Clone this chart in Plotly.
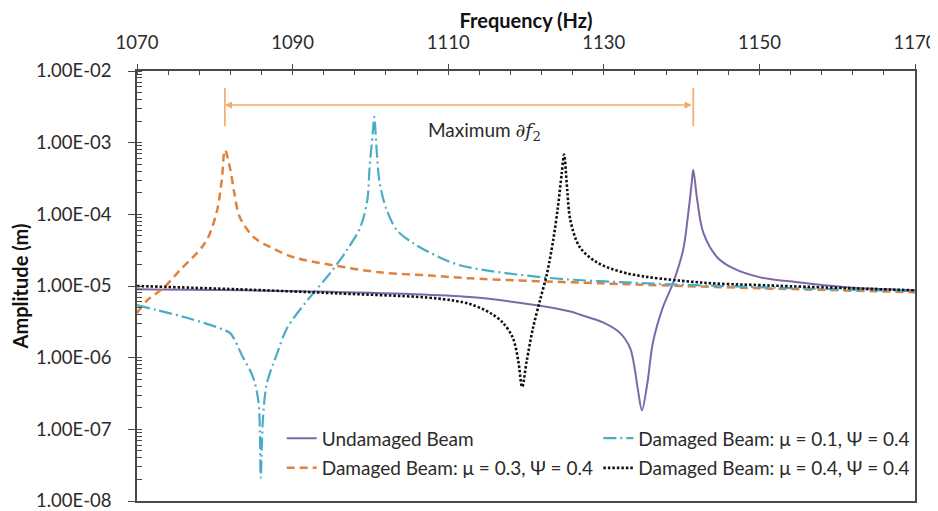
import math
import plotly.graph_objects as go

# ---------------- data ----------------
freq_undamaged = [1070.0, 1091.0, 1112.8, 1121.8, 1125.7, 1126.9, 1129.9, 1132.1, 1133.4, 1134.0,
                  1134.4, 1134.9, 1135.6, 1136.3, 1137.6, 1138.9, 1140.2, 1140.8, 1141.3, 1141.5,
                  1142.0, 1142.8, 1144.6, 1146.6, 1150.1, 1155.2, 1161.6, 1170.0]
amp_undamaged = [9.0e-6, 8.45e-6, 7.0e-6, 5.3e-6, 4.4e-6, 4.0e-6, 3.1e-6, 2.2e-6, 1.35e-6, 6.7e-7,
                 3.5e-7, 1.84e-7, 4.4e-7, 1.6e-6, 5.06e-6, 1.1e-5, 3.2e-5, 9.2e-5, 2.74e-4, 4.2e-4,
                 1.6e-4, 5.5e-5, 2.5e-5, 1.77e-5, 1.32e-5, 1.12e-5, 9.5e-6, 8.7e-6]

freq_mu01 = [1070.0, 1072.6, 1076.4, 1080.7, 1082.0, 1083.6, 1084.9, 1085.6, 1085.8, 1085.9,
             1086.2, 1086.7, 1088.0, 1089.3, 1091.9, 1094.8, 1097.0, 1098.7, 1099.6, 1099.9,
             1100.3, 1100.5, 1100.8, 1101.2, 1102.1, 1103.4, 1105.5, 1107.7, 1111.5, 1122.2,
             1133.0, 1150.1, 1170.0]
amp_mu01 = [5.4e-6, 4.6e-6, 3.6e-6, 2.56e-6, 2.18e-6, 1.02e-6, 5.4e-7, 2.5e-7, 8.8e-8, 2.1e-8,
            1.48e-7, 4.4e-7, 1.14e-6, 2.6e-6, 6.3e-6, 1.5e-5, 3.2e-5, 6.6e-5, 1.58e-4, 4.6e-4,
            1.35e-3, 2.3e-3, 7.9e-4, 2.7e-4, 1.15e-4, 6.0e-5, 3.96e-5, 2.9e-5, 1.95e-5, 1.32e-5,
            1.12e-5, 9.6e-6, 8.5e-6]

freq_mu03 = [1070.0, 1071.3, 1073.5, 1075.5, 1077.7, 1078.6, 1079.3, 1080.3, 1080.9, 1081.3,
             1082.0, 1082.5, 1083.2, 1085.0, 1087.1, 1090.2, 1095.3, 1101.2, 1107.7, 1112.8,
             1129.5, 1150.1, 1170.0]
amp_mu03 = [4.2e-6, 6.3e-6, 9.6e-6, 1.66e-5, 2.88e-5, 3.8e-5, 5.2e-5, 1.14e-4, 3.0e-4, 7.9e-4,
            4.2e-4, 2.0e-4, 9.2e-5, 4.8e-5, 3.5e-5, 2.5e-5, 1.94e-5, 1.55e-5, 1.4e-5, 1.28e-5,
            1.09e-5, 9.3e-6, 8.2e-6]

freq_mu04 = [1070.0, 1082.9, 1095.7, 1108.6, 1112.8, 1115.4, 1117.0, 1118.3, 1119.0, 1119.5,
             1120.1, 1120.9, 1121.8, 1122.7, 1123.5, 1124.1, 1124.6, 1124.9, 1125.3, 1125.7,
             1126.9, 1129.1, 1133.0, 1142.4, 1151.0, 1170.0]
amp_mu04 = [1.0e-5, 9.0e-6, 7.9e-6, 6.7e-6, 5.6e-6, 4.2e-6, 3.1e-6, 1.9e-6, 9.1e-7, 3.9e-7,
            9.1e-7, 2.6e-6, 6.3e-6, 1.5e-5, 4.4e-5, 1.26e-4, 3.8e-4, 6.8e-4, 2.2e-4, 8.3e-5,
            3.5e-5, 2.14e-5, 1.5e-5, 1.12e-5, 1.02e-5, 8.7e-6]

series_names = ["Undamaged Beam",
                "Damaged Beam: μ = 0.1, Ψ = 0.4",
                "Damaged Beam: μ = 0.3, Ψ = 0.4",
                "Damaged Beam: μ = 0.4, Ψ = 0.4"]

x_tick_vals = [1070, 1090, 1110, 1130, 1150, 1170]
y_tick_vals = [1e-2, 1e-3, 1e-4, 1e-5, 1e-6, 1e-7, 1e-8]
y_tick_text = ["1.00E-02", "1.00E-03", "1.00E-04", "1.00E-05", "1.00E-06", "1.00E-07", "1.00E-08"]

# bracket of the "Maximum ∂f2" annotation (amplitude levels)
bracket_amp = 3.35e-3
bracket_low = 1.7e-3
bracket_high = 5.8e-3
label_freq = 1114.7
label_amp = 1.45e-3

# ---------------- figure ----------------
FONT = "Lato"
TXT = "#2b2b2b"
AXC = "#4a4a4a"
ORANGE_LIGHT = "#F4A966"
SMOOTH = 0.9

styles = [
    dict(color="#7E68A8", width=2, shape="spline", smoothing=SMOOTH),
    dict(color="#4BACC6", width=2.2, dash="13px,4px,2px,4px", shape="spline", smoothing=SMOOTH),
    dict(color="#E0823D", width=2.5, dash="8px,5px", shape="spline", smoothing=SMOOTH),
    dict(color="#111111", width=2.6, dash="2.5px,2px", shape="spline", smoothing=SMOOTH),
]
data = [(freq_undamaged, amp_undamaged), (freq_mu01, amp_mu01),
        (freq_mu03, amp_mu03), (freq_mu04, amp_mu04)]
legend_of = ["legend", "legend2", "legend", "legend2"]
rank_of = [1, 1, 2, 2]
draw_order = [0, 2, 1, 3]

fig = go.Figure()
for i in draw_order:
    fx, fy = data[i]
    fig.add_trace(go.Scatter(x=fx, y=fy, mode="lines", name=series_names[i],
                             line=styles[i], legend=legend_of[i], legendrank=rank_of[i],
                             legendgroup="g%d" % i))

# resonance frequencies of the undamaged and mu=0.3 beams (ends of the bracket)
f_left = freq_mu03[amp_mu03.index(max(amp_mu03))]
f_right = freq_undamaged[amp_undamaged.index(max(amp_undamaged))]

for fx in (f_left, f_right):
    fig.add_trace(go.Scatter(x=[fx, fx], y=[bracket_low, bracket_high], mode="lines",
                             line=dict(color=ORANGE_LIGHT, width=1.6),
                             showlegend=False, hoverinfo="skip"))

fig.add_annotation(x=f_left, y=math.log10(bracket_amp), ax=f_right, ay=math.log10(bracket_amp),
                   xref="x", yref="y", axref="x", ayref="y", text="", showarrow=True,
                   arrowside="end+start", arrowhead=2, arrowsize=0.9, arrowwidth=1.6,
                   arrowcolor=ORANGE_LIGHT, standoff=0, startstandoff=0)
fig.add_annotation(x=label_freq, y=math.log10(label_amp), xref="x", yref="y", showarrow=False,
                   text="Maximum <span style=\"font-family:'DejaVu Serif'\"><i>∂f</i><sub>2</sub></span>",
                   font=dict(family=FONT, size=19, color=TXT))

legend_common = dict(orientation="v", yanchor="top", xanchor="left", bgcolor="rgba(0,0,0,0)",
                     font=dict(family=FONT, size=19, color=TXT), traceorder="grouped",
                     tracegroupgap=2, borderwidth=0)

# the page body has an 8px margin: the figure is sized so that it fits the 938x511 window
fig.update_layout(
    width=930, height=503,
    template="none",
    paper_bgcolor="white", plot_bgcolor="white",
    margin=dict(l=129, r=23, t=63, b=10),
    font=dict(family=FONT, size=18, color=TXT),
    showlegend=True,
    legend=dict(x=0.186, y=0.19, **legend_common),
    legend2=dict(x=0.593, y=0.19, **legend_common),
)

fig.update_xaxes(
    side="top", range=[1070, 1170], tickmode="array", tickvals=x_tick_vals,
    ticks="outside", ticklen=5, tickwidth=1.3, tickcolor=AXC, ticklabelstandoff=8,
    ticklabeloverflow="allow",
    minor=dict(dtick=4, tick0=1070, ticks="inside", ticklen=4, tickwidth=1.1, tickcolor=AXC),
    showline=True, linecolor=AXC, linewidth=1.5, mirror=True, showgrid=False, zeroline=False,
    automargin=False,
    title=dict(text="<b>Frequency (Hz)</b>", font=dict(family=FONT, size=20, color="#111"), standoff=18),
    tickfont=dict(family=FONT, size=18.5, color=TXT),
)
fig.update_yaxes(
    type="log", range=[-8, -2], tickmode="array", tickvals=y_tick_vals, ticktext=y_tick_text,
    ticks="outside", ticklen=7, tickwidth=1.3, tickcolor=AXC, ticklabelstandoff=13,
    ticklabeloverflow="allow",
    minor=dict(dtick="D1", ticks="inside", ticklen=5, tickwidth=1.0, tickcolor=AXC),
    showline=True, linecolor=AXC, linewidth=1.5, mirror=True, showgrid=False, zeroline=False,
    automargin=False,
    title=dict(text="<b>Amplitude (m)</b>", font=dict(family=FONT, size=20, color="#111"), standoff=12),
    tickfont=dict(family=FONT, size=18.5, color=TXT),
)

fig.write_html("out.html")
